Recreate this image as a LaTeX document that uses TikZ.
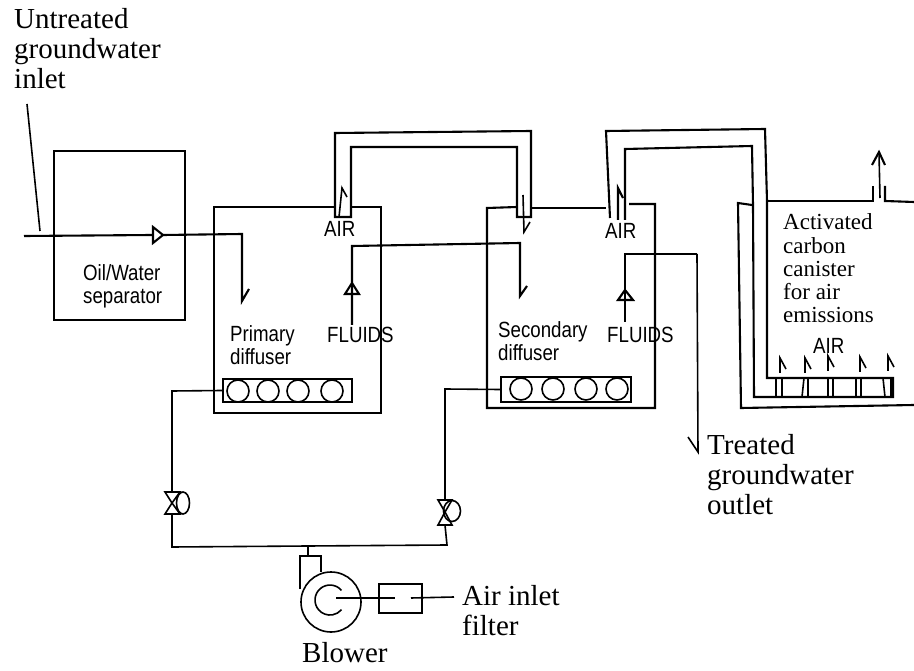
\documentclass[tikz,border=0pt]{standalone}
\usepackage{fontspec}
\setmainfont{Liberation Serif}
\newfontfamily\narrowsans[FakeStretch=0.85]{Liberation Sans}
\tikzset{
  thinl/.style={line width=1.6pt,color=black},
  thickl/.style={line width=2.1pt,color=black},
  serifbig/.style={inner sep=0pt,anchor=base west,align=left,font=\fontsize{29}{30}\selectfont},
  serifsmall/.style={inner sep=0pt,anchor=base west,align=left,font=\fontsize{23}{23.3}\selectfont},
  sanslab/.style={inner sep=0pt,anchor=base west,align=left,font=\narrowsans\fontsize{22}{23}\selectfont},
  boxn/.style={draw,rectangle,inner sep=0pt,thickl},
  bubble/.style={draw,circle,inner sep=0pt,minimum size=22pt,thinl},
}
\begin{document}
\begin{tikzpicture}[x=1pt,y=-1pt]
\useasboundingbox (0,0) rectangle (914,671);
% labels
\node[serifbig] (untreated) at (14,89) {Untreated\\groundwater\\inlet};
\node[serifbig] (treated) at (707,514) {Treated\\groundwater\\outlet};
\node[serifbig] (airinlet) at (462,635) {Air inlet\\filter};
\node[serifbig] (blowerl) at (302,662) {Blower};
\node[serifsmall] (activated) at (783,323) {Activated\\carbon\\canister\\for air\\emissions};
\node[sanslab] (oil) at (83,304) {Oil/Water\\separator};
\node[sanslab] (prim) at (230,365) {Primary\\diffuser};
\node[sanslab] (sec) at (498,360) {Secondary\\diffuser};
\node[sanslab] (fl1) at (327,343) {FLUIDS};
\node[sanslab] (fl2) at (607,343) {FLUIDS};
\node[sanslab] (air1) at (324,237) {AIR};
\node[sanslab] (air2) at (605,239) {AIR};
\node[sanslab] (air3) at (813,354) {AIR};
% separator
\node[boxn,minimum width=131pt,minimum height=169pt] (sep) at (119.5,235.5) {};
\coordinate (inlet) at (24,236);
\draw[thickl] (inlet) -- (152,235);
\draw[thinl] (27,104) -- (40,231);
\draw[thickl] (153,227) -- (163,235) -- (153,243) -- cycle;
\draw[thickl] (163,235) -- (242,234) -- (242,301) -- (249,289);
% primary tank
\draw[thickl] (335,207) -- (214,207) -- (214,413) -- (381,413) -- (381,207) -- (351,207);
% first pipe
\draw[thickl] (335,217) -- (335,133) -- (531,131) -- (531,217) -- (517,217) -- (517,147) -- (351,147) -- (351,217) -- cycle;
\draw[thinl] (339,217) -- (342,188) -- (347,197);
\draw[thinl] (523,195) -- (524,232) -- (530,222);
% secondary tank
\draw[thickl] (517,207) -- (487,208) -- (487,408) -- (655,408) -- (655,204) -- (629,204);
\draw[thickl] (531,208) -- (606,208);
% second pipe
\draw[thickl] (610,218) -- (606,131) -- (765,129) -- (767,201) -- (767,378) -- (893,378) -- (893,397) -- (754,397) -- (753,205) -- (752,146) -- (625,149) -- (625,220);
\draw[thickl] (618,220) -- (618,188) -- (623,198);
% outer casing
\draw[thickl] (752,205) -- (738,203) -- (741,408) -- (914,405);
% canister top and vent
\draw[thickl] (767,201) -- (873,201) -- (873,186);
\draw[thickl] (885,186) -- (885,201) -- (914,202);
\draw[thinl] (880,198) -- (879,153);
\draw[thickl] (872,165) -- (879,152) -- (885,165);
% air sparger bars
\foreach \a/\b in {776/776,782/782,804/802,808/808,828/828,833/833,856/856,861/861,883/885,891/891}
  \draw[thinl] (\a,378) -- (\b,397);
\foreach \x/\t in {780/358,805/358,828/356,860/357,888/356}
  \draw[thinl] (\x,\t+15) -- (\x,\t) -- (\x+6,\t+11);
% fluids lines
\draw[thickl] (352,325) -- (352,246) -- (520,243) -- (520,296) -- (527,286);
\draw[thickl] (352,283) -- (345,294) -- (359,294) -- cycle;
\draw[thickl] (625,322) -- (625,254) -- (697,254);
\draw[thinl] (697,254) -- (698,452) -- (688,437);
\draw[thickl] (625,290) -- (618,300) -- (633,300) -- cycle;
% diffusers
\node[boxn,minimum width=129pt,minimum height=23pt] (d1) at (287.5,390.5) {};
\node[boxn,minimum width=130pt,minimum height=25pt] (d2) at (566,389.5) {};
\foreach \n/\x in {1/238,2/268,3/298,4/332}
  \node[bubble] (a\n) at (\x,391) {};
\foreach \n/\x in {1/521,2/553,3/586,4/617}
  \node[bubble] (b\n) at (\x,389) {};
% air lines and valves
\coordinate (v1) at (172,503);
\coordinate (v2) at (445,512);
\coordinate (jn) at (308,546);
\draw[thinl] (d1.west) -- (172,391) -- (172,492);
\draw[thinl] (172,514) -- (172,547) -- (jn) -- (447,545) -- (445,525);
\draw[thinl] (445,500) -- (445,389) -- (d2.west);
\draw[thinl] (v1) -- (165,492) -- (180,492) -- cycle;
\draw[thinl] (v1) -- (165,514) -- (180,514) -- cycle;
\draw[thinl] (183,503) ellipse [x radius=6.5,y radius=11];
\draw[thinl] (v2) -- (438,500) -- (452,500) -- cycle;
\draw[thinl] (v2) -- (438,525) -- (452,525) -- cycle;
\draw[thinl] (452,511) ellipse [x radius=8.5,y radius=10.5];
% blower
\node[draw,circle,thinl,inner sep=0pt,minimum size=60pt] (blower) at (331,602) {};
\draw[thinl] (jn) -- (308,556);
\draw[thinl] (300,589) -- (300,556) -- (321,556) -- (321,572);
\draw[thinl] (341.5,590.4) arc [start angle=40,end angle=320,radius=15pt];
\node[boxn,thinl,minimum width=43pt,minimum height=29pt] (filt) at (400.5,598.5) {};
\draw[thinl] (336,598) -- (395,598);
\draw[thinl] (411,598) -- (454,597);
\end{tikzpicture}
\end{document}
